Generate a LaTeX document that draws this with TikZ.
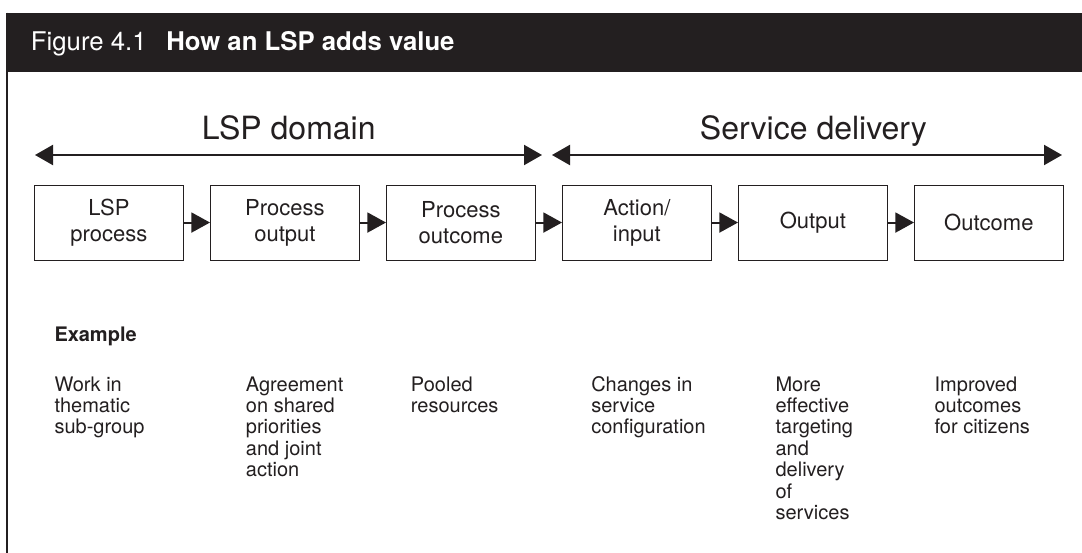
\documentclass[tikz,border=0pt]{standalone}
\usepackage{fontspec}
\setmainfont{TeX Gyre Heros}
\usetikzlibrary{arrows.meta}
\definecolor{ink}{RGB}{35,31,32}
\newcommand\stacklines[1]{\begin{tabular}[t]{@{}l@{}}#1\end{tabular}}
\begin{document}
\begin{tikzpicture}[x=0.75pt,y=-0.75pt,
  stage/.style={draw=ink, line width=0.8pt, minimum width=111.5pt, minimum height=56.25pt,
    inner sep=0pt, align=center, font=\fontsize{16.5}{19.3}\selectfont, text=ink, anchor=north west},
  flow/.style={draw=ink, line width=1.5pt, -{Triangle[length=14pt,width=15pt]}},
  span/.style={draw=ink, line width=1.5pt,
    {Triangle[length=13.5pt,width=15pt]}-{Triangle[length=13.5pt,width=15pt]}},
  heading/.style={font=\fontsize{24}{28}\selectfont, text=ink, anchor=base west, inner sep=0pt},
  titletext/.style={font=\fontsize{19.3}{22}\selectfont, text=white, anchor=base west, inner sep=0pt},
  note/.style={font=\fontsize{15}{16.1}\selectfont, text=ink, anchor=base west, inner sep=0pt}]
\useasboundingbox (0,0) rectangle (1082,553);
\fill[white] (0,0) rectangle (1082,553);
% banner and frame
\fill[ink] (6.7,12.7) rectangle (1082,71.7);
\draw[ink, line width=1.1pt] (7,12.7) -- (7,553);
\node[titletext] (fig) at (30.7,50.7) {Figure 4.1};
\node[titletext, font=\fontsize{19.3}{22}\selectfont\bfseries] (ttl) at (166,50.7) {How an LSP adds value};
% headings
\node[heading] (lsp) at (201.7,139.4) {LSP domain};
\node[heading] (svc) at (699.7,139.4) {Service delivery};
\coordinate (a1) at (35,155);
\coordinate (a2) at (542,155);
\coordinate (b1) at (552,155);
\coordinate (b2) at (1062,155);
\draw[span] (a1) -- (a2);
\draw[span] (b1) -- (b2);
% stages
\node[stage] (s1) at (34,184.5) {LSP\\process};
\node[stage] (s2) at (210,184.5) {Process\\output};
\node[stage] (s3) at (386,184.5) {Process\\outcome};
\node[stage] (s4) at (562,184.5) {Action/\\input};
\node[stage] (s5) at (738,184.5) {Output};
\node[stage] (s6) at (914,184.5) {Outcome};
\draw[flow] (s1.east) -- (s2.west);
\draw[flow] (s2.east) -- (s3.west);
\draw[flow] (s3.east) -- (s4.west);
\draw[flow] (s4.east) -- (s5.west);
\draw[flow] (s5.east) -- (s6.west);
% examples
\node[note, font=\fontsize{15}{16.1}\selectfont\bfseries] (ex) at (54.3,341.7) {Example};
\node[note] (e1) at (54.3,391) {\stacklines{Work in\\thematic\\sub-group}};
\node[note] (e2) at (245.7,391) {\stacklines{Agreement\\on shared\\priorities\\and joint\\action}};
\node[note] (e3) at (410.7,391) {\stacklines{Pooled\\resources}};
\node[note] (e4) at (591,391) {\stacklines{Changes in\\service\\configuration}};
\node[note] (e5) at (775.3,391) {\stacklines{More\\effective\\targeting\\and\\delivery\\of\\services}};
\node[note] (e6) at (934.3,391) {\stacklines{Improved\\outcomes\\for citizens}};
\end{tikzpicture}
\end{document}
